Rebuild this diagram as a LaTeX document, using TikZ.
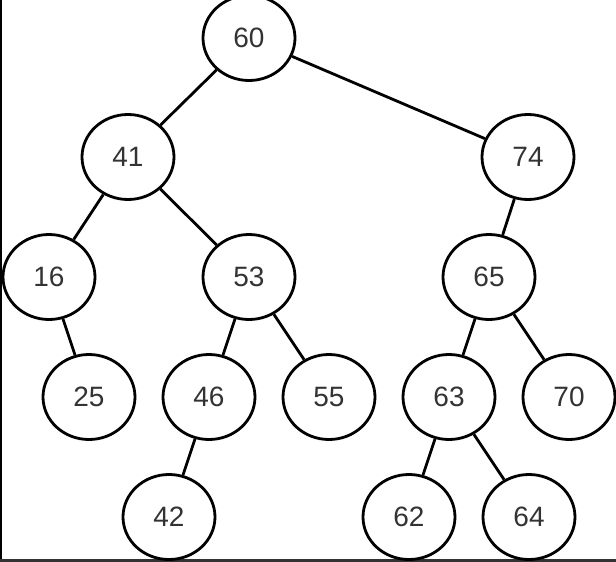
\documentclass[tikz,border=0pt]{standalone}
\usepackage{fontspec}
\setmainfont{Liberation Sans}
\usetikzlibrary{shapes}

\begin{document}
\begin{tikzpicture}[
    x=1pt,
    y=-1pt,
    font=\fontsize{28}{28}\selectfont,
    text centered
  ]

  \tikzstyle{key} = [ellipse, draw, line width=2.8pt, minimum width=92pt, minimum height=85pt, inner sep=0pt, fill=white, text=black!80]
  \tikzstyle{link} = [draw, line width=2.8pt]

  \useasboundingbox (0,0) rectangle (616,562);
  \draw[line width=2.4pt] (0.8,0) -- (0.8,562);
  \draw[line width=3pt, black!80] (0,560.5) -- (616,560.5);

  \node [key] (n60) at (249,38) {60};
  \node [key] (n41) at (128,157) {41};
  \node [key] (n74) at (528,157) {74};
  \node [key] (n16) at (49,277) {16};
  \node [key] (n53) at (249,277) {53};
  \node [key] (n65) at (489,277) {65};
  \node [key] (n25) at (89,397) {25};
  \node [key] (n46) at (209,397) {46};
  \node [key] (n55) at (329,397) {55};
  \node [key] (n63) at (449,397) {63};
  \node [key] (n70) at (569,397) {70};
  \node [key] (n42) at (169,517) {42};
  \node [key] (n62) at (409,517) {62};
  \node [key] (n64) at (529,517) {64};

  \path[link] (n60) edge (n41);
  \path[link] (n60) edge (n74);
  \path[link] (n41) edge (n16);
  \path[link] (n41) edge (n53);
  \path[link] (n16) edge (n25);
  \path[link] (n53) edge (n46);
  \path[link] (n53) edge (n55);
  \path[link] (n46) edge (n42);
  \path[link] (n74) edge (n65);
  \path[link] (n65) edge (n63);
  \path[link] (n65) edge (n70);
  \path[link] (n63) edge (n62);
  \path[link] (n63) edge (n64);

\end{tikzpicture}
\end{document}
